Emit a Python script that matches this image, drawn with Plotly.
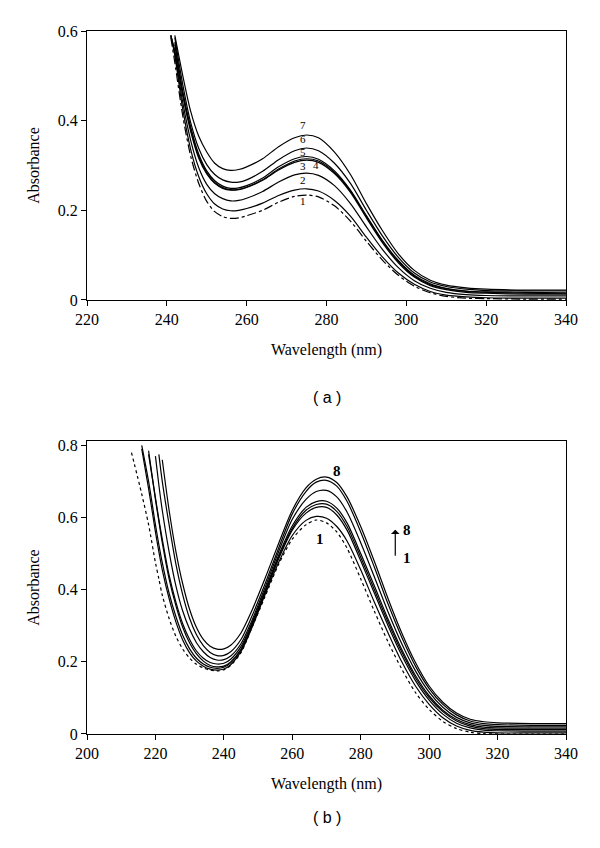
import plotly.graph_objects as go

# ---------------- Panel (a) data ----------------
wl_a = [241, 242, 244, 246, 248, 250, 252, 254, 256, 258, 260, 264, 268, 272, 275, 278,
        282, 286, 290, 294, 298, 302, 306, 310, 315, 320, 330, 340]
a_curve7 = [None, 0.59, 0.50, 0.42, 0.365, 0.33, 0.305, 0.293, 0.289, 0.291, 0.297, 0.315, 0.342, 0.362,
            0.368, 0.362, 0.330, 0.280, 0.215, 0.155, 0.103, 0.066, 0.044, 0.033, 0.027, 0.024, 0.022, 0.022]
a_curve6 = [None, 0.585, 0.48, 0.395, 0.338, 0.302, 0.280, 0.268, 0.263, 0.263, 0.268, 0.287, 0.313, 0.333,
            0.339, 0.333, 0.305, 0.260, 0.200, 0.143, 0.095, 0.060, 0.040, 0.030, 0.024, 0.021, 0.020, 0.020]
a_curve5 = [None, 0.575, 0.465, 0.385, 0.325, 0.288, 0.266, 0.254, 0.249, 0.250, 0.255, 0.272, 0.297, 0.315,
            0.320, 0.314, 0.288, 0.245, 0.188, 0.133, 0.088, 0.055, 0.036, 0.026, 0.020, 0.018, 0.017, 0.016]
a_curve4 = [None, 0.57, 0.46, 0.38, 0.32, 0.284, 0.262, 0.251, 0.246, 0.247, 0.252, 0.268, 0.292, 0.310,
            0.315, 0.310, 0.285, 0.243, 0.186, 0.131, 0.086, 0.053, 0.034, 0.025, 0.019, 0.017, 0.015, 0.015]
a_curve3 = [0.59, 0.555, 0.455, 0.375, 0.316, 0.281, 0.260, 0.249, 0.245, 0.246, 0.251, 0.267, 0.290, 0.307,
            0.312, 0.307, 0.282, 0.240, 0.183, 0.128, 0.083, 0.051, 0.032, 0.023, 0.017, 0.015, 0.013, 0.013]
a_curve2 = [0.59, 0.55, 0.44, 0.355, 0.295, 0.258, 0.237, 0.226, 0.221, 0.222, 0.227, 0.242, 0.263, 0.279,
            0.283, 0.278, 0.255, 0.215, 0.163, 0.113, 0.072, 0.043, 0.026, 0.017, 0.012, 0.010, 0.009, 0.009]
a_curve1 = [0.59, 0.545, 0.425, 0.335, 0.275, 0.237, 0.214, 0.203, 0.199, 0.200, 0.204, 0.216, 0.233, 0.245,
            0.248, 0.243, 0.222, 0.187, 0.140, 0.096, 0.060, 0.035, 0.019, 0.011, 0.007, 0.005, 0.004, 0.004]
a_free = [0.585, 0.53, 0.41, 0.32, 0.26, 0.22, 0.197, 0.186, 0.182, 0.183, 0.188, 0.200, 0.218, 0.231,
          0.234, 0.230, 0.210, 0.176, 0.131, 0.089, 0.055, 0.031, 0.016, 0.008, 0.004, 0.003, 0.002, 0.002]
a_labels = ["7", "6", "5", "3", "4", "2", "1"]
a_label_x = [274.1, 274.0, 274.0, 274.0, 277.4, 274.0, 274.1]
a_label_y = [0.391, 0.359, 0.329, 0.298, 0.300, 0.268, 0.221]

# ---------------- Panel (b) data ----------------
wl_b = [213, 216, 218, 220, 221, 222, 224, 226, 228, 230, 232, 234, 236, 238, 240, 242, 245, 248, 252,
        256, 260, 264, 267, 270, 273, 276, 280, 284, 288, 292, 296, 300, 304, 308, 312, 316, 320, 330, 340]
b_curve1 = [0.78, 0.665, 0.58, 0.475, 0.43, 0.385, 0.32, 0.27, 0.235, 0.21, 0.193, 0.183, 0.177, 0.175,
            0.178, 0.19, 0.225, 0.29, 0.38, 0.47, 0.54, 0.58, 0.593, 0.585, 0.56, 0.515, 0.43, 0.34,
            0.255, 0.18, 0.115, 0.068, 0.035, 0.015, 0.005, 0.001, 0.0, 0.0, 0.0]
b_curve2 = [None, 0.79, 0.68, 0.56, 0.505, 0.455, 0.375, 0.31, 0.26, 0.225, 0.202, 0.188, 0.18, 0.177,
            0.18, 0.192, 0.228, 0.29, 0.385, 0.475, 0.55, 0.592, 0.603, 0.598, 0.575, 0.535, 0.455, 0.365,
            0.28, 0.2, 0.133, 0.082, 0.045, 0.022, 0.01, 0.005, 0.003, 0.003, 0.003]
b_curve3 = [None, 0.80, 0.70, 0.58, 0.525, 0.475, 0.39, 0.325, 0.273, 0.236, 0.21, 0.194, 0.185, 0.182,
            0.185, 0.197, 0.232, 0.295, 0.39, 0.485, 0.565, 0.612, 0.628, 0.628, 0.607, 0.565, 0.48, 0.39,
            0.3, 0.218, 0.148, 0.094, 0.055, 0.03, 0.017, 0.011, 0.009, 0.008, 0.008]
b_curve4 = [None, None, 0.785, 0.65, 0.59, 0.53, 0.43, 0.355, 0.295, 0.252, 0.222, 0.202, 0.19, 0.186,
            0.188, 0.2, 0.235, 0.298, 0.393, 0.49, 0.57, 0.62, 0.636, 0.637, 0.617, 0.575, 0.49, 0.4,
            0.31, 0.227, 0.156, 0.101, 0.062, 0.036, 0.022, 0.015, 0.013, 0.012, 0.012]
b_curve5 = [None, None, 0.775, 0.655, 0.595, 0.54, 0.44, 0.365, 0.305, 0.262, 0.23, 0.21, 0.198, 0.194,
            0.196, 0.207, 0.242, 0.303, 0.397, 0.495, 0.577, 0.628, 0.644, 0.645, 0.626, 0.585, 0.5, 0.41,
            0.318, 0.234, 0.162, 0.106, 0.066, 0.04, 0.026, 0.019, 0.017, 0.016, 0.016]
b_curve6 = [None, None, None, 0.77, 0.69, 0.62, 0.505, 0.41, 0.34, 0.29, 0.253, 0.228, 0.212, 0.205,
            0.206, 0.216, 0.25, 0.31, 0.405, 0.505, 0.595, 0.65, 0.672, 0.675, 0.657, 0.615, 0.53, 0.435,
            0.338, 0.25, 0.175, 0.116, 0.074, 0.046, 0.031, 0.024, 0.021, 0.02, 0.02]
b_curve7 = [None, None, None, None, 0.775, 0.70, 0.58, 0.47, 0.385, 0.32, 0.275, 0.245, 0.226, 0.217,
            0.218, 0.228, 0.262, 0.322, 0.415, 0.515, 0.61, 0.672, 0.698, 0.703, 0.687, 0.645, 0.56, 0.462,
            0.36, 0.268, 0.188, 0.126, 0.082, 0.053, 0.036, 0.029, 0.026, 0.024, 0.024]
b_curve8 = [None, None, None, None, None, 0.76, 0.62, 0.505, 0.415, 0.345, 0.295, 0.262, 0.243, 0.235,
            0.236, 0.246, 0.28, 0.338, 0.43, 0.528, 0.62, 0.682, 0.706, 0.712, 0.697, 0.657, 0.575, 0.478,
            0.375, 0.28, 0.198, 0.133, 0.088, 0.058, 0.041, 0.034, 0.031, 0.029, 0.029]

SERIF = "Liberation Serif, Times New Roman, DejaVu Serif, serif"
SANS = "Liberation Sans, Arial, sans-serif"
fig = go.Figure()

def add_line(x, y, xa, ya, dash="solid"):
    fig.add_trace(go.Scatter(x=x, y=y, mode="lines", xaxis=xa, yaxis=ya, showlegend=False,
                             line=dict(color="black", width=1.2, dash=dash, shape="spline", smoothing=0.8),
                             hoverinfo="skip"))

for c in [a_curve7, a_curve6, a_curve5, a_curve4, a_curve3, a_curve2, a_curve1]:
    add_line(wl_a, c, "x", "y")
add_line(wl_a, a_free, "x", "y", dash="dashdot")

for c in [b_curve2, b_curve3, b_curve4, b_curve5, b_curve6, b_curve7, b_curve8]:
    add_line(wl_b, c, "x2", "y2")
add_line(wl_b, b_curve1, "x2", "y2", dash="dot")

ann = []
for t, lx, ly in zip(a_labels, a_label_x, a_label_y):
    ann.append(dict(x=lx, y=ly, xref="x", yref="y", text=t, showarrow=False,
                    font=dict(family=SERIF, size=11, color="black")))
ann += [
    dict(x=273.2, y=0.730, xref="x2", yref="y2", text="<b>8</b>", showarrow=False,
         font=dict(family=SERIF, size=15, color="black")),
    dict(x=268.1, y=0.539, xref="x2", yref="y2", text="<b>1</b>", showarrow=False,
         font=dict(family=SERIF, size=15, color="black")),
    dict(x=293.5, y=0.565, xref="x2", yref="y2", text="<b>8</b>", showarrow=False,
         font=dict(family=SERIF, size=15, color="black")),
    dict(x=293.5, y=0.487, xref="x2", yref="y2", text="<b>1</b>", showarrow=False,
         font=dict(family=SERIF, size=15, color="black")),
    dict(x=290.1, y=0.566, ax=290.1, ay=0.49, xref="x2", yref="y2", axref="x2", ayref="y2",
         text="", showarrow=True, arrowhead=1, arrowsize=1.2, arrowwidth=1.2, arrowcolor="black"),
    dict(x=0.5, y=0.479, xref="paper", yref="paper", text="( a )", showarrow=False,
         font=dict(family=SANS, size=16, color="black")),
    dict(x=0.5, y=-0.134, xref="paper", yref="paper", text="( b )", showarrow=False,
         font=dict(family=SANS, size=16, color="black")),
]

axis_common = dict(showline=True, linecolor="black", linewidth=1, mirror=True, ticks="outside",
                   ticklen=5, tickcolor="black", tickwidth=1, showgrid=False, zeroline=False,
                   tickfont=dict(family=SERIF, size=16, color="black"))
title_font = dict(family=SERIF, size=16, color="black")

fig.update_layout(
    width=600, height=848,
    margin=dict(l=79, r=42, t=23, b=122),
    plot_bgcolor="white", paper_bgcolor="white",
    font=dict(family=SERIF, color="black"),
    xaxis=dict(domain=[0, 1], anchor="y", range=[220, 340], dtick=20,
               title=dict(text="Wavelength (nm)", font=title_font, standoff=16),
               **axis_common),
    yaxis=dict(domain=[0.6174, 1], anchor="x", range=[0, 0.6], dtick=0.2,
               title=dict(text="Absorbance", font=title_font, standoff=14),
               **axis_common),
    xaxis2=dict(domain=[0, 1], anchor="y2", range=[200, 340], dtick=20,
                title=dict(text="Wavelength (nm)", font=title_font, standoff=16),
                **axis_common),
    yaxis2=dict(domain=[0, 0.4168], anchor="x2", range=[0, 0.812], dtick=0.2,
                title=dict(text="Absorbance", font=title_font, standoff=14),
                **axis_common),
    annotations=ann,
)

fig.write_html("out.html")
